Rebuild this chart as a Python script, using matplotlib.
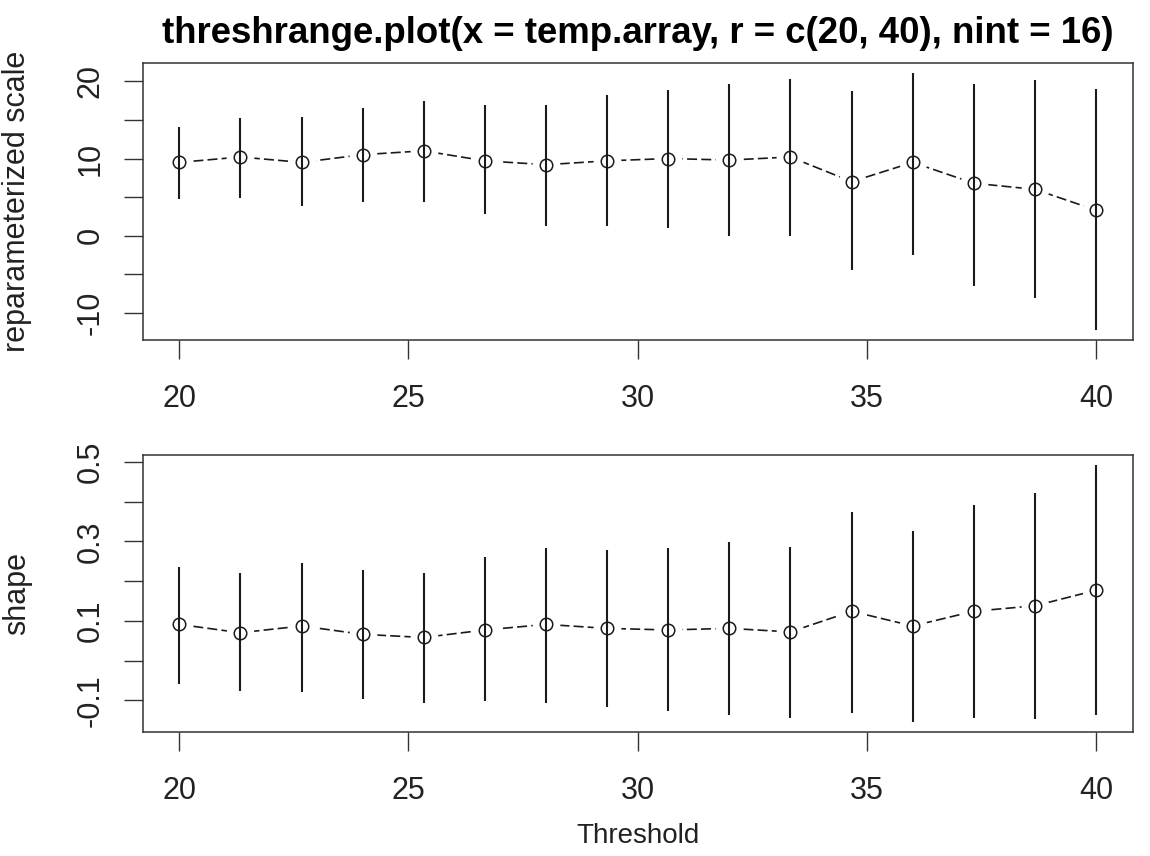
import numpy as np
import matplotlib
matplotlib.use("Agg")
import matplotlib.pyplot as plt

plt.rcParams['font.family'] = ['Liberation Sans', 'DejaVu Sans']

# threshold grid (r = c(20, 40), nint = 16)
thresh = [20.00, 21.33, 22.67, 24.00, 25.33, 26.67, 28.00, 29.33,
          30.67, 32.00, 33.33, 34.67, 36.00, 37.33, 38.67, 40.00]

# reparameterized scale: estimate and CI ends
scale_est = [9.5, 10.2, 9.5, 10.5, 11.0, 9.7, 9.2, 9.7, 10.0, 9.8, 10.2, 7.0, 9.5, 6.8, 6.0, 3.3]
scale_lo = [4.7, 4.9, 3.8, 4.3, 4.3, 2.8, 1.3, 1.3, 1.0, 0.0, 0.0, -4.4, -2.5, -6.5, -8.1, -12.2]
scale_hi = [14.1, 15.2, 15.4, 16.5, 17.5, 17.0, 17.0, 18.3, 18.9, 19.6, 20.3, 18.8, 21.1, 19.7, 20.2, 19.0]

# shape: estimate and CI ends
shape_est = [0.091, 0.070, 0.087, 0.066, 0.058, 0.077, 0.091, 0.081,
             0.077, 0.081, 0.072, 0.124, 0.087, 0.124, 0.138, 0.177]
shape_lo = [-0.059, -0.078, -0.079, -0.097, -0.108, -0.103, -0.108, -0.118,
            -0.126, -0.138, -0.145, -0.132, -0.155, -0.144, -0.147, -0.138]
shape_hi = [0.235, 0.221, 0.246, 0.227, 0.221, 0.260, 0.284, 0.279,
            0.283, 0.298, 0.287, 0.375, 0.327, 0.392, 0.421, 0.492]

x_ticks = [20, 25, 30, 35, 40]
scale_ticks = [-10, -5, 0, 5, 10, 15, 20]
scale_labels = ['-10', '', '0', '', '10', '', '20']
shape_ticks = [-0.1, 0.0, 0.1, 0.2, 0.3, 0.4, 0.5]
shape_labels = ['-0.1', '', '0.1', '', '0.3', '', '0.5']

title = "threshrange.plot(x = temp.array, r = c(20, 40), nint = 16)"
fs = 22
ink = '#1a1a1a'


def r_range(lo, hi):
    # R style 4% extension
    lo, hi = min(lo), max(hi)
    d = 0.04 * (hi - lo)
    return lo - d, hi + d


def panel(ax, est, lo, hi, ticks, labels, ylab):
    ax.plot(thresh, est, linestyle=(0, (6, 2.5)), color=ink, linewidth=1.2, zorder=1)
    ax.plot(thresh, est, 'o', markersize=19, color='white', zorder=2)
    ax.vlines(thresh, lo, hi, color=ink, linewidth=1.5, zorder=3)
    ax.plot(thresh, est, 'o', markersize=9, mfc='none', mec=ink, mew=1.1, zorder=4)
    ax.set_xlim(*r_range(thresh, thresh))
    ax.set_ylim(*r_range(lo, hi))
    ax.set_xticks(x_ticks)
    ax.set_xticklabels([str(t) for t in x_ticks])
    ax.set_yticks(ticks)
    ax.set_yticklabels(labels, rotation=90, va='center')
    ax.tick_params(axis='x', length=13.5, width=1.0, pad=18, labelsize=fs,
                   color='#333333', labelcolor='#222222')
    ax.tick_params(axis='y', length=13.5, width=1.0, pad=13, labelsize=fs,
                   color='#333333', labelcolor='#222222')
    for s in ax.spines.values():
        s.set_color('#333333')
        s.set_linewidth(1.1)
    ax.set_ylabel(ylab, fontsize=fs, color='#222222')
    ax.yaxis.set_label_coords(-0.112, 0.5)


fig = plt.figure(figsize=(11.5, 8.56), dpi=100)
ax1 = fig.add_axes([0.124, 0.6028, 0.861, 0.324])
ax2 = fig.add_axes([0.124, 0.1445, 0.861, 0.324])

panel(ax1, scale_est, scale_lo, scale_hi, scale_ticks, scale_labels, 'reparameterized scale')
panel(ax2, shape_est, shape_lo, shape_hi, shape_ticks, shape_labels, 'shape')

ax1.set_title(title, fontsize=26.4, fontweight='bold', pad=14, color='black')
ax2.set_xlabel('Threshold', fontsize=20, color='#222222', labelpad=12)

fig.savefig('out.png', dpi=100, facecolor='white')
